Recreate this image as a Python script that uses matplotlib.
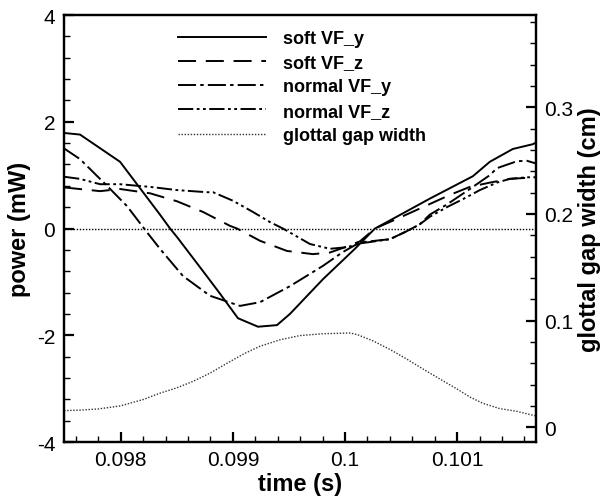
import matplotlib
matplotlib.use("Agg")
import matplotlib.pyplot as plt
from matplotlib.ticker import MultipleLocator, FuncFormatter

plt.rcParams['font.family'] = ['Liberation Sans', 'DejaVu Sans']
plt.rcParams['lines.scale_dashes'] = False

# ---- data ----
t_soft_y = [0.097495, 0.097637, 0.097994, 0.098350, 0.098440, 0.098502, 0.098734, 0.098885,
            0.099045, 0.099224, 0.099393, 0.099509, 0.099803, 0.100088, 0.100267, 0.100373,
            0.100756, 0.101140, 0.101291, 0.101496, 0.101675, 0.101701]
p_soft_y = [1.79, 1.76, 1.25, 0.26, 0.0, -0.16, -0.80, -1.22,
            -1.68, -1.84, -1.81, -1.6, -0.95, -0.38, 0.0, 0.12,
            0.56, 0.98, 1.25, 1.49, 1.58, 1.61]

t_soft_z = [0.097495, 0.097816, 0.097994, 0.098261, 0.098502, 0.098734, 0.098974, 0.099037,
            0.099242, 0.099482, 0.099714, 0.099865, 0.100000, 0.100133, 0.100267, 0.100462,
            0.100694, 0.100935, 0.101113, 0.101291, 0.101469, 0.101701]
p_soft_z = [0.77, 0.70, 0.74, 0.66, 0.51, 0.31, 0.05, 0.0,
            -0.23, -0.42, -0.48, -0.45, -0.35, -0.24, 0.0, 0.18,
            0.40, 0.63, 0.78, 0.86, 0.93, 0.96]

t_norm_y = [0.097495, 0.097637, 0.097878, 0.098056, 0.098234, 0.098350, 0.098555, 0.098796,
            0.099063, 0.099242, 0.099509, 0.099803, 0.099981, 0.100133, 0.100400, 0.100551,
            0.100667, 0.100756, 0.100908, 0.101113, 0.101291, 0.101354, 0.101532, 0.101620,
            0.101701]
p_norm_y = [1.50, 1.30, 0.80, 0.42, -0.07, -0.38, -0.89, -1.26,
            -1.45, -1.38, -1.08, -0.70, -0.44, -0.26, -0.20, -0.05,
            0.08, 0.26, 0.45, 0.74, 1.0, 1.13, 1.26, 1.27,
            1.22]

t_norm_z = [0.097495, 0.097637, 0.097816, 0.097994, 0.098261, 0.098502, 0.098769, 0.098823,
            0.099001, 0.099179, 0.099331, 0.099446, 0.099687, 0.099865, 0.100017, 0.100133,
            0.100400, 0.100551, 0.100667, 0.100756, 0.100908, 0.101051, 0.101202, 0.101354,
            0.101469, 0.101620, 0.101701]
p_norm_z = [0.97, 0.93, 0.83, 0.83, 0.78, 0.72, 0.68, 0.68,
            0.52, 0.31, 0.12, 0.0, -0.29, -0.38, -0.35, -0.28,
            -0.20, -0.05, 0.08, 0.22, 0.40, 0.55, 0.72, 0.86,
            0.93, 0.96, 0.96]

t_gap = [0.097495, 0.097650, 0.097800, 0.097994, 0.098200, 0.098350, 0.098500, 0.098644,
         0.098800, 0.098947, 0.099100, 0.099242, 0.099420, 0.099598, 0.099803, 0.100044,
         0.100106, 0.100250, 0.100400, 0.100550, 0.100694, 0.100850, 0.100997, 0.101120,
         0.101229, 0.101380, 0.101532, 0.101701]
gap = [0.0156, 0.0162, 0.0172, 0.0200, 0.0260, 0.0320, 0.0370, 0.0430,
       0.0510, 0.0600, 0.0690, 0.0760, 0.0820, 0.0860, 0.0877, 0.0884,
       0.0870, 0.0810, 0.0730, 0.0640, 0.0547, 0.0450, 0.0360, 0.0280,
       0.0225, 0.0175, 0.0150, 0.0106]

labels = ['soft VF_y', 'soft VF_z', 'normal VF_y', 'normal VF_z', 'glottal gap width']

# ---- figure ----
fig = plt.figure(figsize=(6.05, 5.02), dpi=100)
ax = fig.add_axes([0.105, 0.1175, 0.781, 0.8506])
ax2 = ax.twinx()

lw = 1.4
l1, = ax.plot(t_soft_y, p_soft_y, color='black', lw=lw, ls='-')
l2, = ax.plot(t_soft_z, p_soft_z, color='black', lw=lw, ls=(0, (13, 7)))
l3, = ax.plot(t_norm_y, p_norm_y, color='black', lw=lw, ls=(0, (13, 3, 2.5, 3)))
l4, = ax.plot(t_norm_z, p_norm_z, color='black', lw=lw, ls=(0, (11, 2.5, 2, 2.5, 2, 2.5)))
ax.axhline(0, color='black', lw=1.0, ls=(0, (1, 1.2)))
l5, = ax2.plot(t_gap, gap, color='#333333', lw=1.0, ls=(0, (1, 1.2)))

ax.set_xlim(0.097490, 0.101703)
ax.set_ylim(-4, 4)
ax2.set_ylim(-0.0138, 0.3865)

ax.xaxis.set_major_locator(MultipleLocator(0.001))
ax.xaxis.set_minor_locator(MultipleLocator(0.0002))
ax.yaxis.set_major_locator(MultipleLocator(2))
ax.yaxis.set_minor_locator(MultipleLocator(0.4))
ax2.yaxis.set_major_locator(MultipleLocator(0.1))
ax2.yaxis.set_minor_locator(MultipleLocator(0.02))

fmt = FuncFormatter(lambda v, p: ('%g' % round(v, 6)))
ax.xaxis.set_major_formatter(fmt)
ax.yaxis.set_major_formatter(fmt)
ax2.yaxis.set_major_formatter(fmt)

for a in (ax, ax2):
    for s in a.spines.values():
        s.set_linewidth(1.6)
ax.tick_params(axis='both', which='major', direction='in', length=7, width=1.6,
               labelsize=15, pad=6, top=False, right=False)
ax.tick_params(axis='both', which='minor', direction='in', length=4.5, width=1.0,
               top=False, right=False)
ax2.tick_params(axis='y', which='major', direction='in', length=7, width=1.6,
                labelsize=15, pad=6)
ax2.tick_params(axis='y', which='minor', direction='in', length=4.5, width=1.0)

ax.set_xlabel('time (s)', fontsize=17, fontweight='bold', labelpad=2)
ax.set_ylabel('power (mW)', fontsize=17, fontweight='bold', labelpad=4)
ax2.set_ylabel('glottal gap width (cm)', fontsize=17, fontweight='bold', labelpad=3)

leg = ax.legend([l1, l2, l3, l4, l5], labels, loc='upper left',
                bbox_to_anchor=(178 / 605, 1 - 31 / 502), bbox_transform=fig.transFigure,
                frameon=False, borderpad=0, borderaxespad=0, handlelength=4.9,
                handletextpad=0.9, labelspacing=0.40,
                prop={'weight': 'bold', 'size': 13, 'family': ['Liberation Sans', 'DejaVu Sans']})

fig.savefig('out.png', dpi=100)
